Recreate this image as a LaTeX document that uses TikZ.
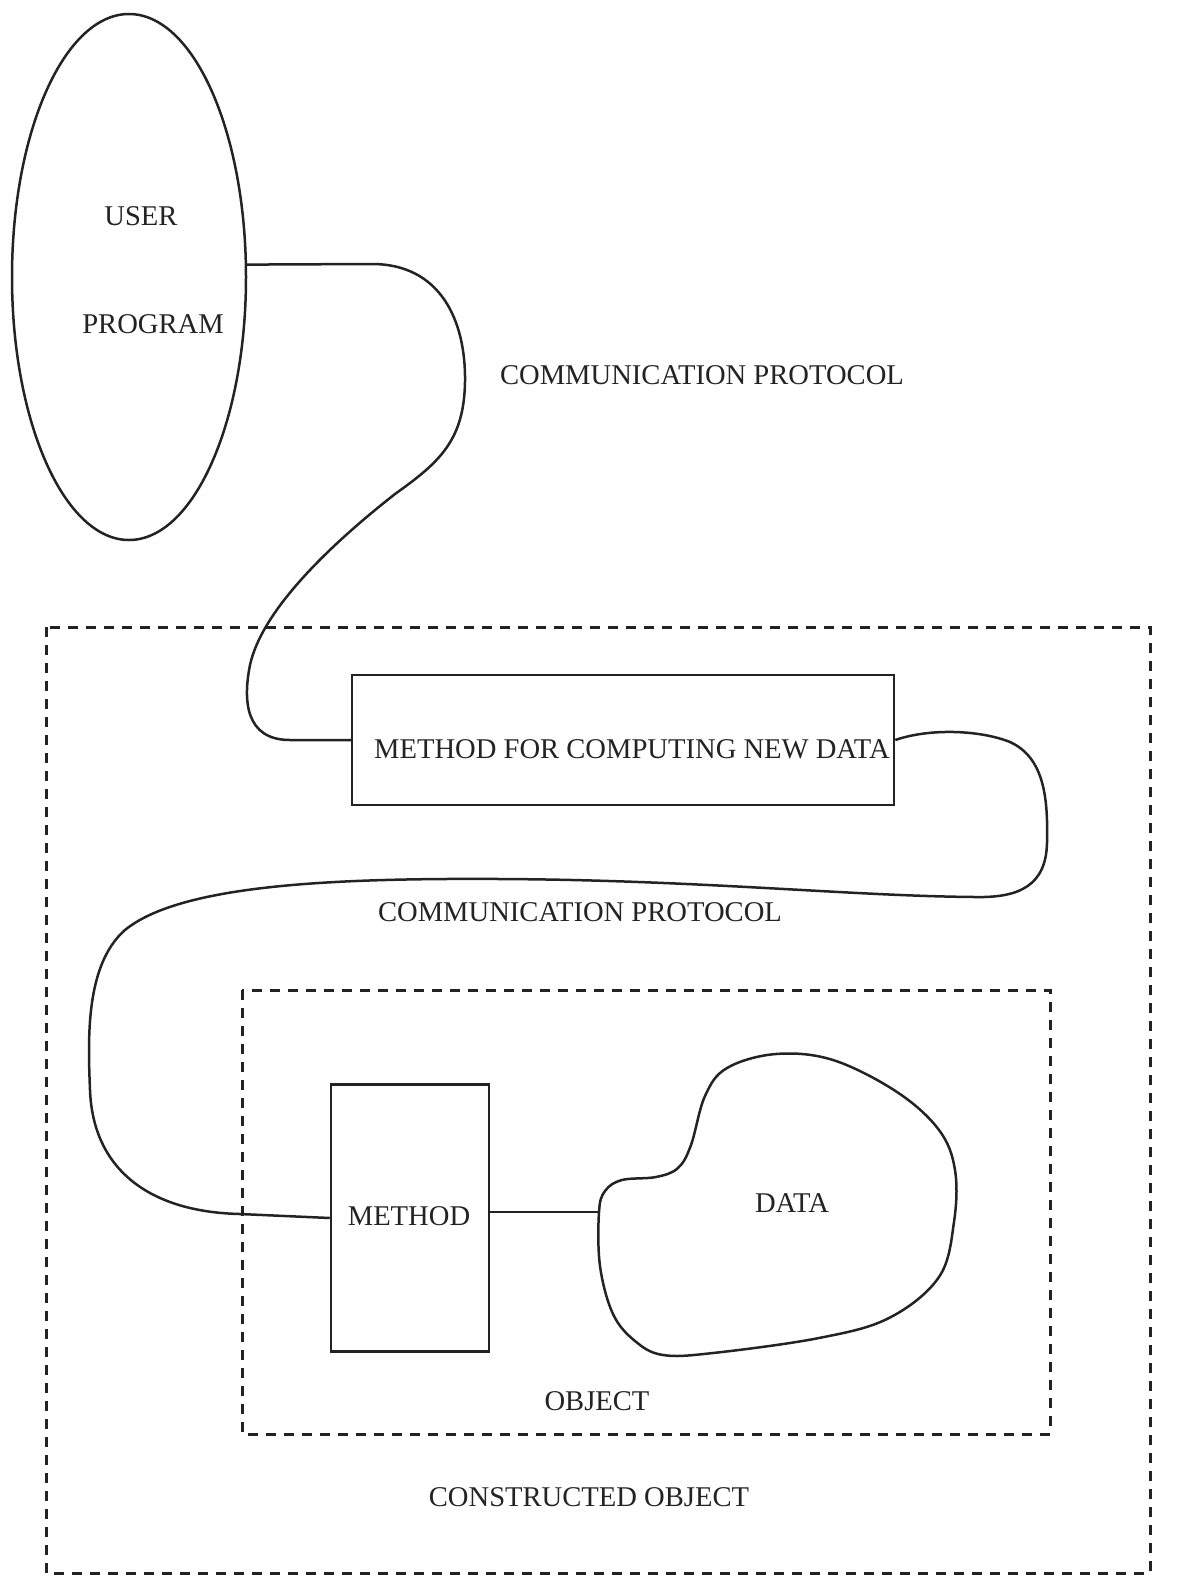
\documentclass[tikz,border=0pt]{standalone}
\usepackage{fontspec}
\setmainfont{Liberation Serif}
\usepackage{tikz}
\usetikzlibrary{shapes.geometric,calc}
\definecolor{inkdark}{RGB}{35,35,35}

\begin{document}
\begin{tikzpicture}[
    x=1pt, y=-1pt,
    every node/.style={font=\fontsize{28.6}{34}\selectfont, text=inkdark, inner sep=0pt},
    wire/.style={draw=inkdark, line width=2.5pt, line join=round},
    dashbox/.style={draw=inkdark, line width=3pt, dash pattern=on 10pt off 8pt},
    progoval/.style={ellipse, draw=inkdark, line width=2.5pt, minimum width=234pt, minimum height=526pt},
    rectbox/.style={rectangle, draw=inkdark, line width=2.5pt}
]
\useasboundingbox (0,0) rectangle (1189,1577);

\draw[dashbox] (46,627) rectangle (1150,1573);
\draw[dashbox] (242,990) rectangle (1050,1434);

\node[progoval] (user_prog) at (129,277) {};
\node (user_lbl) at (141,216) {USER};
\node (prog_lbl) at (153,324) {PROGRAM};

\node[rectbox, minimum width=542pt, minimum height=130pt] (compute_box) at (623,740) {};
\node (compute_lbl) at (632,749) {METHOD FOR COMPUTING NEW DATA};

\node[rectbox, minimum width=158pt, minimum height=267pt] (method_box) at (410,1218) {};
\node (method_lbl) at (409,1216) {METHOD};

\draw[wire] plot[smooth cycle, tension=0.6] coordinates {
    (599,1212) (605,1191) (622,1180) (656,1177) (678,1168) (691,1145)
    (705,1096) (727,1068) (776,1054) (833,1060) (897,1092) (939,1130)
    (955,1170) (954,1222) (939,1277) (889,1318) (819,1338) (713,1353)
    (663,1355) (635,1341) (613,1314) (600,1266)};
\coordinate (data_tip) at (599,1212);
\node (data_lbl) at (792,1203) {DATA};

\node (proto_top) at (702,375) {COMMUNICATION PROTOCOL};
\node (proto_mid) at (580,912) {COMMUNICATION PROTOCOL};
\node (object_lbl) at (597,1401) {OBJECT};
\node (constructed_lbl) at (589,1497) {CONSTRUCTED OBJECT};

\draw[wire] (user_prog.6) -- (372,264)
    .. controls (440,264) and (466,320) .. (465,382)
    .. controls (464,440) and (440,462) .. (395,494)
    .. controls (330,545) and (262,610) .. (250,665)
    .. controls (243,700) and (245,740) .. (290,740)
    -- (compute_box.west);
\draw[wire] (compute_box.east) .. controls (930,728) and (980,730) .. (1010,742)
    .. controls (1045,758) and (1048,800) .. (1047,843)
    .. controls (1046,885) and (1020,898) .. (975,897)
    .. controls (850,896) and (700,880) .. (500,879)
    .. controls (330,878) and (180,885) .. (125,930)
    .. controls (85,965) and (88,1040) .. (90,1090)
    .. controls (93,1170) and (150,1212) .. (240,1214)
    -- (method_box.west);
\draw[wire] (data_tip -| method_box.east) -- (data_tip);

\end{tikzpicture}
\end{document}
